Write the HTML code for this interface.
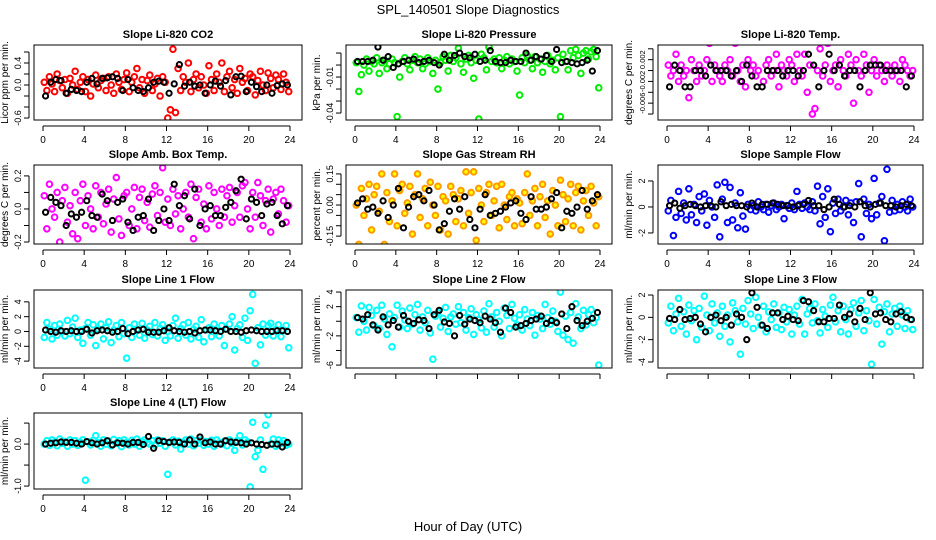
<!DOCTYPE html>
<html><head><meta charset="utf-8"><style>
html,body{margin:0;padding:0;background:#fff}
svg{display:block;font-family:"Liberation Sans",sans-serif}
</style></head><body>
<svg id="c" width="936" height="540" viewBox="0 0 936 540">
<text x="468" y="14" font-size="13" text-anchor="middle">SPL_140501  Slope Diagnostics</text>
<text x="468" y="531" font-size="13" text-anchor="middle">Hour of Day (UTC)</text>
</svg>
<script>
const hourTicks=[0,4,8,12,16,20,24];
const titles=["Slope Li-820 CO2","Slope Li-820 Pressure","Slope Li-820 Temp.","Slope Amb. Box Temp.","Slope Gas Stream RH","Slope Sample Flow","Slope Line 1 Flow","Slope Line 2 Flow","Slope Line 3 Flow","Slope Line 4 (LT) Flow"];
const yTitles=["Licor ppm per min.","kPa per min.","degrees C per min.","degrees C per min.","percent per min.","ml/min per min.","ml/min per min.","ml/min per min.","ml/min per min.","ml/min per min."];
const yLims=[[-0.636,0.727],[-0.0458,0.0167],[-0.0091,0.0047],[-0.212,0.266],[-0.188,0.193],[-2.85,3.23],[-4.93,5.6],[-6.4,4.28],[-4.54,2.45],[-1.07,0.74]];
const yTicks=[[-0.6,-0.4,-0.2,0,0.2,0.4,0.6],[-0.04,-0.03,-0.02,-0.01,0,0.01],[-0.008,-0.006,-0.004,-0.002,0,0.002,0.004],[-0.2,-0.1,0,0.1,0.2],[-0.15,-0.1,-0.05,0,0.05,0.1,0.15],[-2,0,2],[-4,-2,0,2,4],[-6,-4,-2,0,2,4],[-4,-2,0,2],[-1,-0.5,0,0.5]];
const yTickLabels=[{"-0.6":"-0.6","0":"0.0","0.4":"0.4"},{"-0.04":"-0.04","-0.01":"-0.01"},{"-0.006":"-0.006","-0.002":"-0.002","0.002":"0.002"},{"-0.2":"-0.2","0":"0.0","0.2":"0.2"},{"-0.15":"-0.15","0":"0.00","0.15":"0.15"},{"-2":"-2","0":"0","2":"2"},{"-4":"-4","-2":"-2","0":"0","2":"2","4":"4"},{"-6":"-6","-2":"-2","2":"2","4":"4"},{"-4":"-4","-2":"-2","0":"0","2":"2"},{"-1":"-1.0","0":"0.0"}];
const seriesColors=["#ff0000","#00ee00","#ff00ff","#ff00ff","#ff9900","#0000ff","#00ffff","#00ffff","#00ffff","#00ffff"];
const co2=[0.05,-0.1,0.15,0.02,-0.12,0.2,0.08,-0.05,0.1,-0.15,0.12,0.0,0.25,-0.08,0.05,0.15,-0.12,0.1,-0.2,0.02,0.18,-0.05,0.08,0.12,-0.1,0.15,0.0,-0.15,0.2,0.05,-0.08,0.1,0.22,-0.12,0.05,0.15,0.3,-0.05,0.1,-0.15,0.08,0.18,-0.1,0.02,0.12,-0.2,0.15,0.05,-0.6,-0.45,0.65,-0.5,0.3,-0.1,0.15,0.05,0.4,-0.12,0.1,0.2,-0.05,0.15,0.0,-0.15,0.35,0.1,-0.1,0.2,0.05,0.4,-0.12,0.15,0.25,-0.05,0.1,-0.15,0.3,0.05,0.12,-0.1,0.2,0.15,-0.18,0.08,0.25,0.0,-0.1,0.22,0.12,-0.05,0.18,0.1,-0.08,0.2,0.05,-0.12];
const co2Mean=[-0.2,0.05,0.1,0.08,-0.15,-0.08,-0.1,-0.12,0.05,0.12,0.02,0.12,0.13,0.15,0.12,-0.1,0.1,-0.05,-0.1,-0.12,-0.05,0.05,0.07,0.05,-0.15,0.02,0.37,-0.02,0.05,-0.02,0.0,-0.15,0.0,0.07,-0.02,0.08,-0.18,0.15,0.16,-0.12,0.05,-0.03,-0.12,0.0,-0.15,-0.01,0.02,0.0];
const press=[0.002,-0.022,-0.008,0.0,0.005,-0.005,0.003,0.001,0.006,-0.007,0.002,0.004,-0.003,0.001,0.005,0.002,-0.043,-0.01,0.003,0.006,0.001,-0.004,0.004,0.007,0.002,0.005,-0.003,0.001,0.006,0.003,-0.007,0.004,-0.02,0.002,0.007,0.004,-0.005,0.008,0.003,0.006,0.014,0.001,-0.006,0.005,0.008,0.002,-0.011,0.004,-0.045,0.009,0.006,-0.004,0.015,0.003,0.005,0.002,0.006,-0.003,0.004,0.007,0.001,0.005,0.003,-0.005,-0.025,0.006,0.002,0.008,0.004,-0.003,0.007,0.002,0.005,-0.006,0.003,0.008,0.001,0.004,-0.004,0.006,-0.043,0.009,0.003,-0.004,0.012,0.006,0.013,0.008,-0.007,0.01,0.012,0.005,0.011,0.013,0.007,-0.019];
const pressMean=[0.003,0.003,0.003,0.004,0.015,0.004,0.007,-0.002,0.001,0.003,0.004,0.005,0.002,0.003,0.004,0.002,0.0,0.009,0.004,0.008,0.01,0.007,0.006,0.009,0.003,0.004,0.012,0.003,0.002,0.002,0.004,0.003,0.003,0.01,0.004,0.007,0.005,0.008,0.003,0.013,0.002,0.003,0.002,0.001,0.002,0.004,-0.005,0.012];
const licTemp=[0.001,-0.001,0.0,0.003,-0.002,0.001,-0.001,0.0,-0.005,0.002,0.0,-0.002,0.001,-0.001,0.0,0.002,0.005,-0.002,0.001,0.0,-0.001,-0.002,0.001,0.0,0.002,-0.001,0.005,0.0,-0.002,0.001,-0.003,0.002,0.0,0.001,-0.001,0.0,0.006,-0.002,0.001,0.002,-0.001,0.0,0.003,-0.003,0.001,0.0,-0.001,0.002,0.001,-0.002,0.003,0.0,-0.001,0.003,-0.004,0.001,-0.008,-0.007,0.0,0.004,-0.001,0.001,0.005,-0.002,0.0,0.001,-0.003,0.002,0.0,-0.001,0.003,0.001,-0.006,0.002,0.0,-0.001,0.003,0.001,-0.004,0.0,0.002,-0.001,0.001,0.0,-0.002,0.001,0.0,-0.001,0.001,0.0,-0.002,0.002,0.001,0.0,-0.001,0.0];
const licTempMean=[-0.003,0.001,0.0,-0.003,-0.003,0.0,0.0,-0.001,0.001,0.0,0.0,0.0,-0.001,0.0,-0.002,0.001,-0.001,-0.003,-0.003,0.0,0.0,0.0,-0.001,0.0,0.0,-0.001,0.0,0.003,0.001,-0.003,0.0,0.003,0.0,0.001,-0.001,0.0,0.0,-0.003,0.0,0.001,0.001,0.001,0.0,0.0,0.0,0.0,-0.003,-0.001];
const ambTemp=[0.08,-0.12,0.15,0.0,-0.05,0.1,-0.2,0.05,0.13,-0.08,0.02,-0.15,0.1,-0.18,0.05,0.15,-0.1,0.08,0.0,-0.12,0.14,-0.05,0.1,-0.09,0.03,0.12,-0.14,0.06,0.19,-0.06,-0.16,0.08,0.1,-0.1,0.0,0.13,-0.12,0.07,0.12,-0.07,0.04,-0.11,0.09,0.14,-0.04,0.1,0.25,-0.08,0.06,-0.1,0.12,-0.03,0.08,-0.12,0.0,0.1,-0.05,0.15,-0.18,0.07,0.12,-0.08,0.03,-0.12,0.14,-0.06,0.1,0.0,-0.1,0.12,-0.05,0.08,0.13,-0.08,0.02,0.1,-0.05,0.14,0.16,0.0,-0.12,0.1,-0.05,0.16,0.08,-0.1,0.05,0.12,-0.14,0.06,0.1,-0.03,0.12,0.05,-0.08,0.02];
const ambTempMean=[-0.02,0.07,0.04,0.02,-0.1,-0.03,-0.05,-0.02,0.05,-0.04,-0.05,0.09,0.05,-0.07,0.04,0.06,-0.08,-0.13,-0.05,-0.04,0.06,-0.13,-0.07,0.0,-0.07,0.15,0.02,0.08,-0.06,0.12,-0.1,0.0,0.02,-0.04,-0.04,0.01,0.04,0.11,0.18,-0.06,0.06,0.04,-0.04,0.03,0.04,-0.04,-0.09,0.02];
const rh=[0.0,-0.19,0.08,-0.05,0.03,0.1,-0.12,0.05,0.09,-0.03,0.15,-0.19,0.06,-0.08,0.02,0.15,-0.1,0.07,0.1,-0.04,0.01,0.09,-0.14,0.05,0.15,-0.06,0.03,0.08,-0.1,0.11,0.0,-0.05,0.09,-0.12,0.04,0.02,-0.14,0.09,0.05,-0.08,0.03,0.07,-0.1,0.16,-0.04,0.06,0.16,-0.17,0.08,0.0,-0.08,0.06,0.1,-0.05,0.02,0.09,-0.11,0.1,0.0,-0.07,0.04,0.06,-0.1,0.03,0.01,-0.09,0.06,0.15,-0.05,0.02,0.08,-0.1,0.04,0.1,-0.06,0.02,-0.14,0.07,0.0,-0.1,0.12,0.05,-0.08,0.03,0.1,-0.1,0.06,0.09,-0.12,0.02,0.07,-0.05,0.09,0.01,-0.1,0.04];
const rhMean=[0.01,0.03,-0.02,-0.01,-0.04,0.02,-0.06,0.0,0.08,-0.11,-0.01,0.04,0.05,0.02,0.07,0.0,-0.12,-0.09,-0.03,0.03,-0.02,0.04,-0.07,-0.11,-0.02,0.05,-0.05,-0.04,-0.03,-0.01,0.01,0.02,-0.04,-0.07,0.04,-0.02,-0.02,-0.01,0.03,0.06,-0.11,-0.03,-0.04,-0.01,0.07,-0.02,0.02,0.05];
const sampleFlow=[-0.3,0.5,-2.2,-0.8,1.2,-0.5,0.3,-1.0,1.4,-0.6,0.2,-1.2,0.8,-0.3,1.0,-1.4,0.5,0.0,-0.8,1.7,-2.3,0.6,1.9,-1.2,1.5,-1.0,0.3,-1.6,1.1,-0.7,-1.7,0.2,-0.2,0.1,-0.3,0.4,0.0,-0.2,0.2,-0.4,0.1,0.3,-0.2,0.0,0.2,-0.9,0.1,-0.1,0.3,-0.2,1.2,0.2,-0.1,0.3,0.0,-0.2,0.4,-0.3,1.6,-1.3,0.8,-0.8,1.4,-1.9,0.3,-0.5,0.6,-0.3,0.0,0.5,-0.6,0.3,-1.2,0.4,1.8,-2.3,0.6,-0.5,0.2,-0.9,2.2,-0.6,0.3,0.8,-2.6,2.9,-0.4,0.5,-0.3,0.2,-0.2,0.4,0.0,-0.3,0.6,0.0];
const sampleFlowMean=[0.1,0.3,-0.1,0.1,0.2,0.1,0.0,0.1,0.1,0.0,0.4,0.1,0.2,0.1,0.1,0.0,0.3,0.0,0.2,0.2,0.3,0.2,0.1,0.1,0.0,0.1,0.2,0.5,0.1,0.1,-0.2,0.0,0.6,0.2,0.0,0.1,0.0,0.4,0.1,0.0,0.2,0.3,0.1,0.1,0.0,0.1,0.2,0.1];
const line1=[-0.8,1.2,0.3,-1.0,0.8,-0.5,1.0,0.0,-0.6,1.5,-0.3,0.6,1.8,-0.8,0.2,-1.6,0.4,1.2,-0.5,0.9,-1.9,0.3,1.0,-1.0,0.5,1.3,-1.5,0.2,0.8,-0.7,1.2,-0.3,-3.6,0.5,-0.8,1.0,0.3,-0.5,1.1,-0.9,0.2,0.7,-0.4,1.2,-0.6,0.4,0.9,-1.2,0.0,-0.6,0.8,1.8,-0.9,0.4,0.9,-0.5,1.2,-1.0,0.3,0.7,-0.8,1.6,-1.4,0.2,0.5,-0.7,1.0,0.1,-0.6,0.8,-1.9,0.3,1.0,2.0,-2.5,0.4,0.9,-0.8,1.8,-1.2,2.8,5.0,-4.3,0.5,-1.8,1.0,-0.5,0.8,1.1,-0.6,0.3,0.9,-0.7,0.2,0.8,-2.2];
const line1Mean=[0.2,0.0,-0.1,0.1,0.0,0.1,0.0,0.0,0.3,-0.2,0.1,0.2,0.1,-0.1,0.0,0.4,-0.3,0.0,0.2,0.3,-0.1,-0.1,-0.1,0.1,0.5,0.1,0.0,-0.1,0.0,-0.2,0.1,0.2,0.2,0.1,0.0,0.3,0.0,0.0,-0.1,0.1,0.2,0.1,0.0,0.0,0.0,0.1,0.1,0.0];
const line2=[0.5,-1.5,2.1,0.0,-1.2,1.9,0.8,-0.6,1.5,-1.0,2.2,0.3,-1.8,1.0,-3.5,0.5,2.2,-0.8,1.4,0.2,-1.0,1.8,-0.4,0.9,2.3,-1.2,0.6,-0.2,1.5,-1.6,-5.2,0.7,1.2,-0.8,0.4,1.9,-1.4,0.6,1.0,-0.4,2.0,-0.2,1.2,-1.2,0.5,1.7,-1.8,0.9,0.2,-0.9,1.4,-1.5,2.4,0.6,-0.8,1.2,0.0,-2.0,1.8,0.8,-1.0,2.3,0.4,-0.5,0.9,-1.2,1.6,0.3,-0.6,1.2,-1.9,0.8,0.3,-1.0,2.3,0.5,-0.4,1.4,0.0,-1.4,4.0,-1.9,0.7,-2.5,1.2,-3.0,2.4,0.6,-1.0,1.5,-0.5,0.9,1.6,-0.2,0.5,-6.0];
const line2Mean=[0.5,0.3,0.9,-0.5,-1.2,0.6,-0.5,0.1,-0.8,0.8,0.0,-0.3,0.2,0.1,-1.0,0.9,1.5,-0.1,-0.3,-2.0,0.8,-0.4,0.3,0.1,-0.2,0.7,0.3,-0.2,-1.5,1.8,1.2,-0.8,-0.6,-0.3,0.1,0.3,0.7,-0.3,0.1,-0.2,1.0,-1.0,2.0,0.1,-0.6,0.0,0.4,1.2];
const line3=[-0.5,1.0,-1.2,0.3,1.7,-0.8,0.5,-1.5,1.1,-0.3,0.6,-2.0,0.8,-0.9,1.9,0.2,-1.2,1.2,-0.5,0.4,-1.7,1.0,-0.8,0.2,-2.2,1.3,0.6,-0.4,-3.3,0.8,-0.6,1.5,0.3,-1.0,1.8,0.0,-0.7,1.0,-1.3,0.5,-0.2,1.2,-0.9,0.4,-1.1,0.9,-0.4,0.7,-1.5,0.2,1.0,-0.6,1.6,-1.5,0.3,0.8,-0.5,1.2,-0.3,-1.4,0.7,0.1,-0.9,1.1,1.8,-0.4,0.6,-1.3,1.0,-0.2,-1.5,0.7,1.3,-0.8,0.4,1.5,-1.2,0.6,-0.3,-4.2,1.6,-0.6,0.9,-2.4,0.5,1.2,-1.3,0.3,0.8,-0.8,1.0,0.2,-1.0,0.6,-0.2,-1.1];
const line3Mean=[-0.1,-0.2,0.7,-0.2,-0.1,0.0,-0.6,-1.3,0.0,0.2,-0.3,0.0,-0.7,0.3,0.0,-2.0,2.2,0.9,-0.7,-1.0,0.4,0.4,-0.2,0.1,-0.2,-0.3,1.5,1.4,0.6,-0.4,-0.4,-0.1,-0.1,1.1,0.0,0.3,-0.4,0.8,-0.2,2.2,0.3,0.4,-0.2,-0.4,0.3,0.5,0.0,-0.2];
const line4=[0.0,0.08,-0.03,0.1,0.05,-0.04,0.12,0.02,0.06,-0.05,0.1,0.0,0.08,-0.03,0.04,0.1,-0.86,0.05,-0.02,0.09,0.2,0.03,-0.05,0.1,0.0,0.07,-0.04,0.11,0.02,0.08,-0.06,0.1,0.04,-0.02,0.09,0.0,0.12,-0.05,0.06,0.1,0.03,0.0,0.08,-0.03,0.1,0.02,0.08,-0.05,-0.72,0.05,0.1,-0.02,0.07,-0.12,0.04,0.1,0.0,0.12,-0.04,0.08,0.02,0.1,-0.03,0.06,0.0,0.09,-0.05,0.1,0.03,0.0,0.07,-0.04,0.1,0.02,-0.15,0.08,0.2,-0.02,0.1,0.05,-1.02,0.52,-0.3,-0.15,0.1,-0.6,0.45,0.7,0.0,0.12,-0.05,0.1,0.02,0.08,-0.03,0.0];
const line4Mean=[0.0,0.02,0.03,0.05,0.04,0.04,0.02,0.0,0.06,0.03,0.0,0.03,0.08,-0.02,0.03,0.02,0.0,0.04,0.04,-0.01,0.18,-0.1,0.08,0.06,0.04,0.05,0.04,0.0,0.1,0.0,0.17,0.03,0.05,0.0,0.0,0.08,0.05,0.04,0.03,0.0,0.03,0.0,-0.01,-0.03,0.0,0.0,-0.07,0.04];
const seriesAll=[co2,press,licTemp,ambTemp,rh,sampleFlow,line1,line2,line3,line4];
const meansAll=[co2Mean,pressMean,licTempMean,ambTempMean,rhMean,sampleFlowMean,line1Mean,line2Mean,line3Mean,line4Mean];

const NS="http://www.w3.org/2000/svg";
const svg=document.getElementById('c');
const cols=[{l:34,r:302,x0:43,x24:290},{l:346,r:612,x0:355,x24:600},{l:658,r:923,x0:667,x24:914}];
const rows=[{t:45,b:120},{t:165,b:244},{t:290,b:368},{t:413,b:489}];
function mk(tag,attrs,parent){const e=document.createElementNS(NS,tag);for(const k in attrs)e.setAttribute(k,attrs[k]);parent.appendChild(e);return e;}
function fmt(v){return String(+v.toFixed(6));}
for(let p=0;p<10;p++){
  const c=cols[p%3],r=rows[Math.floor(p/3)];
  const g=mk('g',{},svg);
  
  
  const xs=h=>c.x0+(c.x24-c.x0)*h/24;
  const lim=yLims[p];
  const ys=v=>r.b-(v-lim[0])/(lim[1]-lim[0])*(r.b-r.t);
  const t=mk('text',{x:(c.l+c.r)/2,y:r.t-7,'font-size':11,'font-weight':'bold','text-anchor':'middle'},g);
  t.textContent=titles[p];
  
  
  const yt=mk('text',{transform:`translate(${c.l-26},${(r.t+r.b)/2}) rotate(-90)`,'font-size':10,'text-anchor':'middle'},g);
  yt.textContent=yTitles[p];
  
  
  const xa=mk('g',{stroke:'#000','stroke-width':1},g);
  
  
  mk('line',{x1:xs(0),x2:xs(24),y1:r.b+6,y2:r.b+6},xa);
  hourTicks.forEach(h=>{
    mk('line',{x1:xs(h),x2:xs(h),y1:r.b+6,y2:r.b+11},xa);
    if(p!==7&&p!==8){
      const tl=mk('text',{x:xs(h),y:r.b+23,'font-size':10,'text-anchor':'middle',stroke:'none'},xa);
      tl.textContent=h;
      
      
    }
  });
  const ya=mk('g',{stroke:'#000','stroke-width':1},g);
  
  
  const tv=yTicks[p];
  mk('line',{x1:c.l-5,x2:c.l-5,y1:ys(tv[0]),y2:ys(tv[tv.length-1])},ya);
  tv.forEach(v=>{
    const y=ys(v);
    mk('line',{x1:c.l-10,x2:c.l-5,y1:y,y2:y},ya);
    const lab=yTickLabels[p][fmt(v)];
    if(lab!==undefined){
      const tl=mk('text',{transform:`translate(${c.l-13},${y}) rotate(-90)`,'font-size':p===2?7.5:9,'text-anchor':'middle',stroke:'none'},ya);
      tl.textContent=lab;
      
      
    }
  });
  const cp=mk('clipPath',{id:'cp'+p},g);
  mk('rect',{x:c.l,y:r.t,width:c.r-c.l,height:r.b-r.t},cp);
  const pts=mk('g',{'clip-path':`url(#cp${p})`},g);
  
  
  const s=seriesAll[p];
  const fillCol=p===4?'#ffff00':'none';
  s.forEach((v,i)=>{
    const ci=mk('circle',{cx:xs((i+0.5)*24/s.length),cy:ys(v),r:2.8,fill:fillCol,stroke:seriesColors[p],'stroke-width':2},pts);
    
    
  });
  const m=meansAll[p];
  m.forEach((v,i)=>{
    const ci=mk('circle',{cx:xs((i+0.5)*24/m.length),cy:ys(v),r:2.6,fill:'none',stroke:'#000','stroke-width':2},pts);
    
    
  });
  const box=mk('rect',{x:c.l,y:r.t,width:c.r-c.l,height:r.b-r.t,fill:'none',stroke:'#000','stroke-width':1},g);
  
  
}
</script>
</body></html>
